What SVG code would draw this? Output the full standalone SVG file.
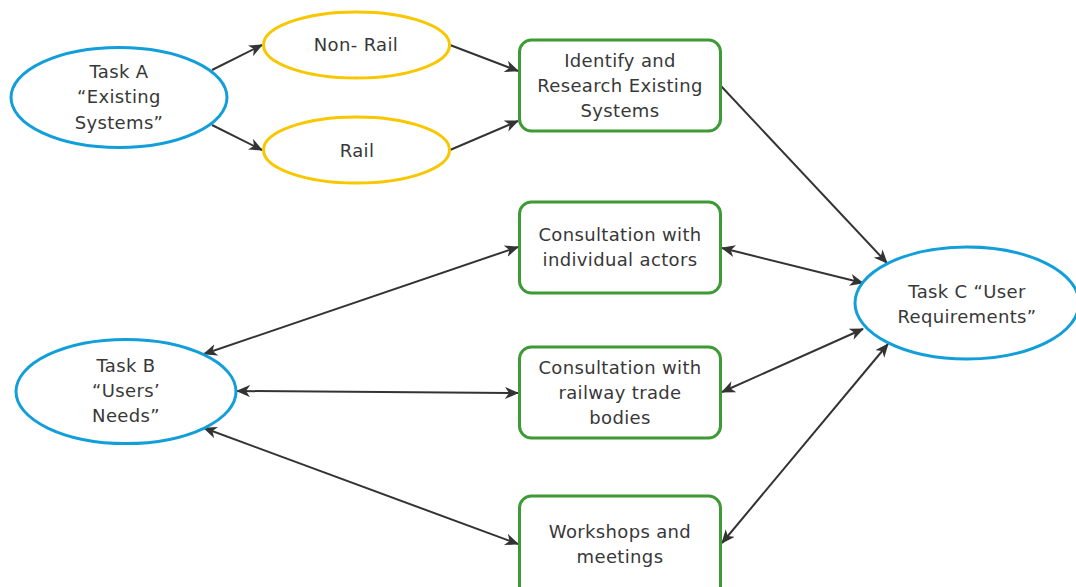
<svg xmlns="http://www.w3.org/2000/svg" width="1076" height="587" viewBox="0 0 1076 587">
  <style>
    .task { fill: #ffffff; stroke: #129fd9; stroke-width: 3; }
    .kind { fill: #ffffff; stroke: #f8c700; stroke-width: 3; }
    .step { fill: #ffffff; stroke: #3e9a34; stroke-width: 3; }
    .label { font-family: "DejaVu Sans", Verdana, sans-serif; font-size: 18px; letter-spacing: 0.35px; fill: #383838; text-anchor: middle; }
    .link { fill: none; stroke: #333333; stroke-width: 2; }
  </style>
  <defs>
    <marker id="head" viewBox="0 0 14 12" refX="13" refY="6" markerWidth="14" markerHeight="12" markerUnits="userSpaceOnUse" orient="auto-start-reverse">
      <path d="M0,0 L14,6 L0,12 L4,6 Z" fill="#333333"/>
    </marker>
  </defs>
  <rect width="1076" height="587" fill="#ffffff"/>

  <g id="connectors">
    <line class="link" x1="212" y1="70" x2="262" y2="45" marker-end="url(#head)"/>
    <line class="link" x1="212" y1="125" x2="262" y2="150" marker-end="url(#head)"/>
    <line class="link" x1="450" y1="45" x2="518" y2="71" marker-end="url(#head)"/>
    <line class="link" x1="450" y1="150" x2="518" y2="121" marker-end="url(#head)"/>
    <line class="link" x1="721" y1="86" x2="887" y2="263" marker-end="url(#head)"/>
    <line class="link" x1="722" y1="248" x2="863" y2="283" marker-start="url(#head)" marker-end="url(#head)"/>
    <line class="link" x1="204" y1="354" x2="518" y2="247" marker-start="url(#head)" marker-end="url(#head)"/>
    <line class="link" x1="237" y1="391" x2="518" y2="393" marker-start="url(#head)" marker-end="url(#head)"/>
    <line class="link" x1="204" y1="428" x2="518" y2="544" marker-start="url(#head)" marker-end="url(#head)"/>
    <line class="link" x1="722" y1="392" x2="863" y2="329" marker-start="url(#head)" marker-end="url(#head)"/>
    <line class="link" x1="722" y1="543" x2="888" y2="344" marker-start="url(#head)" marker-end="url(#head)"/>
  </g>

  <g id="task-a">
    <ellipse class="task" cx="119" cy="97.5" rx="108" ry="50"/>
    <text class="label" x="119" y="78">Task A</text>
    <text class="label" x="119" y="103">“Existing</text>
    <text class="label" x="119" y="129">Systems”</text>
  </g>

  <g id="non-rail">
    <ellipse class="kind" cx="356.5" cy="45" rx="93" ry="33"/>
    <text class="label" x="356" y="51">Non- Rail</text>
  </g>

  <g id="rail">
    <ellipse class="kind" cx="356.5" cy="150" rx="93" ry="33"/>
    <text class="label" x="357" y="157">Rail</text>
  </g>

  <g id="identify">
    <rect class="step" x="519.5" y="40" width="201" height="91" rx="12"/>
    <text class="label" x="620" y="67">Identify and</text>
    <text class="label" x="620" y="92">Research Existing</text>
    <text class="label" x="620" y="117">Systems</text>
  </g>

  <g id="consult-actors">
    <rect class="step" x="519.5" y="202" width="201" height="91" rx="12"/>
    <text class="label" x="620" y="241">Consultation with</text>
    <text class="label" x="620" y="266">individual actors</text>
  </g>

  <g id="consult-trade">
    <rect class="step" x="519.5" y="347" width="201" height="91" rx="12"/>
    <text class="label" x="620" y="374">Consultation with</text>
    <text class="label" x="620" y="399">railway trade</text>
    <text class="label" x="620" y="424">bodies</text>
  </g>

  <g id="workshops">
    <rect class="step" x="519.5" y="496" width="201" height="105" rx="12"/>
    <text class="label" x="620" y="538">Workshops and</text>
    <text class="label" x="620" y="563">meetings</text>
  </g>

  <g id="task-b">
    <ellipse class="task" cx="126" cy="391.5" rx="110" ry="52"/>
    <text class="label" x="126" y="372">Task B</text>
    <text class="label" x="126" y="397">“Users’</text>
    <text class="label" x="126" y="422">Needs”</text>
  </g>

  <g id="task-c">
    <ellipse class="task" cx="967" cy="303" rx="112" ry="56"/>
    <text class="label" x="967" y="298">Task C “User</text>
    <text class="label" x="967" y="323">Requirements”</text>
  </g>
</svg>
